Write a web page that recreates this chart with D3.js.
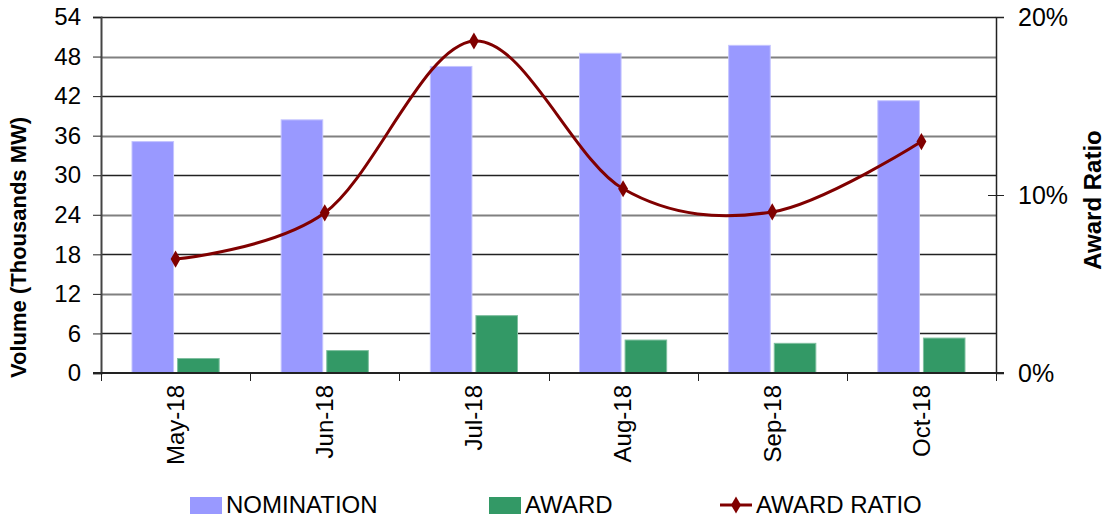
<!DOCTYPE html>
<html>
<head>
<meta charset="utf-8">
<script src="https://cdn.jsdelivr.net/npm/d3@7/dist/d3.min.js"></script>
<style>
	body { margin: 0; background: #fff; }
	svg text { font-family: "Liberation Sans", Arial, sans-serif; fill: #000; }
</style>
</head>
<body>
<svg width="1106" height="521"></svg>
<script>
// chart data
const months = ["May-18", "Jun-18", "Jul-18", "Aug-18", "Sep-18", "Oct-18"];
const nomination = [35.1, 38.4, 46.5, 48.5, 49.7, 41.3];
const award = [2.2, 3.4, 8.7, 5.0, 4.5, 5.3];
const awardRatio = [0.064, 0.090, 0.1865, 0.1035, 0.0905, 0.130];
const volumeTicks = [0, 6, 12, 18, 24, 30, 36, 42, 48, 54];
const ratioTicks = [0, 0.1, 0.2];
const seriesNames = ["NOMINATION", "AWARD", "AWARD RATIO"];

const nomColour = "#9999ff";
const awardColour = "#339966";
const lineColour = "#800000";

let svg = d3.select("svg");
let plotLeft = 101, plotRight = 996, plotTop = 17, plotBottom = 373;

let x0 = d3.scaleBand().domain(months).range([plotLeft, plotRight]);
let x1 = d3.scaleBand()
	.domain(["NOMINATION", "AWARD"])
	.range([0, x0.bandwidth()])
	.paddingInner(0.088)
	.paddingOuter(0.68);
let y = d3.scaleLinear().domain([0, 54]).range([plotBottom, plotTop]);
let y2 = d3.scaleLinear().domain([0, 0.2]).range([plotBottom, plotTop]);

// gridlines, every other one drawn grey & heavier like the original
svg.append("g").attr("class", "grid")
	.selectAll("line")
	.data(volumeTicks.filter(d => d > 0))
	.enter().append("line")
		.attr("x1", plotLeft).attr("x2", plotRight)
		.attr("y1", d => Math.round(y(d)) + 0.5)
		.attr("y2", d => Math.round(y(d)) + 0.5)
		.attr("stroke", (d, i) => i % 2 == 0 ? "#222" : "#808080")
		.attr("stroke-width", (d, i) => i % 2 == 0 ? 1.5 : 2);

// bars
let rows = months.map((m, i) => ({month: m, vals: [
	{key: "NOMINATION", value: nomination[i]},
	{key: "AWARD", value: award[i]},
]}));

svg.append("g").attr("class", "bars")
	.selectAll("g")
	.data(rows)
	.enter().append("g")
		.attr("transform", d => "translate(" + x0(d.month) + ",0)")
	.selectAll("rect")
	.data(d => d.vals)
	.enter().append("rect")
		.attr("x", d => x1(d.key))
		.attr("width", x1.bandwidth())
		.attr("y", d => y(d.value))
		.attr("height", d => plotBottom - y(d.value))
		.attr("fill", d => d.key == "NOMINATION" ? nomColour : awardColour)
		.attr("stroke", d => d.key == "NOMINATION" ? "#c4c4ff" : "#7fbf9f")
		.attr("stroke-width", 1);

// axes
let yAxis = svg.append("g")
	.attr("transform", "translate(" + plotLeft + ",0)")
	.call(d3.axisLeft(y).tickValues(volumeTicks).tickSize(8).tickPadding(12));
yAxis.select(".domain").attr("stroke", "#444").attr("stroke-width", 2);
yAxis.selectAll(".tick line").attr("stroke", "#222");
yAxis.selectAll("text").style("font-size", "24px");

let y2Axis = svg.append("g")
	.attr("transform", "translate(" + plotRight + ",0)")
	.call(d3.axisRight(y2).tickValues(ratioTicks).tickSize(8).tickPadding(14)
		.tickFormat(d3.format(".0%")));
y2Axis.select(".domain").attr("stroke", "#222").attr("stroke-width", 1.5);
y2Axis.selectAll(".tick line").attr("x1", -8).attr("stroke", "#222");
y2Axis.selectAll("text").style("font-size", "25px");

let xAxis = svg.append("g")
	.attr("transform", "translate(0," + plotBottom + ")")
	.call(d3.axisBottom(x0).tickSize(0).tickPadding(0));
xAxis.select(".domain").remove();
xAxis.selectAll("text")
	.style("font-size", "24px")
	.attr("text-anchor", "end")
	.attr("transform", "rotate(-90)")
	.attr("x", -12)
	.attr("y", 0)
	.attr("dy", "0.35em");

// axis line and boundary ticks
svg.append("line")
	.attr("x1", plotLeft - 8).attr("x2", plotRight + 8)
	.attr("y1", plotBottom).attr("y2", plotBottom)
	.attr("stroke", "#222").attr("stroke-width", 2);
svg.append("g").selectAll("line")
	.data(months.map(m => x0(m)).concat([plotRight]))
	.enter().append("line")
		.attr("x1", d => Math.round(d) + 0.5).attr("x2", d => Math.round(d) + 0.5)
		.attr("y1", plotBottom).attr("y2", plotBottom + 8)
		.attr("stroke", "#222");

// award ratio line
let cx = (d, i) => x0(months[i]) + x0.bandwidth() / 2;
let line = d3.line()
	.x(cx)
	.y(d => y2(d))
	.curve(d3.curveCardinal);
svg.append("path")
	.datum(awardRatio)
	.attr("fill", "none")
	.attr("stroke", lineColour)
	.attr("stroke-width", 3)
	.attr("d", line);

let diamond = d3.symbol().type(d3.symbolDiamond).size(85);
svg.append("g").selectAll("path")
	.data(awardRatio)
	.enter().append("path")
		.attr("d", diamond)
		.attr("transform", (d, i) => "translate(" + cx(d, i) + "," + y2(d) + ")")
		.attr("fill", lineColour);

// axis titles
svg.append("text")
	.attr("transform", "translate(26,378) rotate(-90)")
	.attr("text-anchor", "start")
	.style("font-size", "22px")
	.style("font-weight", "bold")
	.text("Volume  (Thousands MW)");
svg.append("text")
	.attr("transform", "translate(1101,200) rotate(-90)")
	.attr("text-anchor", "middle")
	.style("font-size", "24px")
	.style("font-weight", "bold")
	.text("Award Ratio");

// legend
let legendX = [190, 489, 720];
let legend = svg.append("g").selectAll("g")
	.data(seriesNames)
	.enter().append("g")
		.attr("transform", (d, i) => "translate(" + legendX[i] + ",505)");
legend.filter((d, i) => i < 2).append("rect")
	.attr("x", 0).attr("y", -8).attr("width", 32).attr("height", 17)
	.attr("fill", (d, i) => i == 0 ? nomColour : awardColour);
legend.filter((d, i) => i == 2).append("line")
	.attr("x1", 0).attr("x2", 32).attr("y1", 0).attr("y2", 0)
	.attr("stroke", lineColour).attr("stroke-width", 3);
legend.filter((d, i) => i == 2).append("path")
	.attr("d", diamond)
	.attr("transform", "translate(16,0)")
	.attr("fill", lineColour);
legend.append("text")
	.attr("x", 36)
	.attr("dy", "0.35em")
	.style("font-size", "24px")
	.text(d => d);
</script>
</body>
</html>
